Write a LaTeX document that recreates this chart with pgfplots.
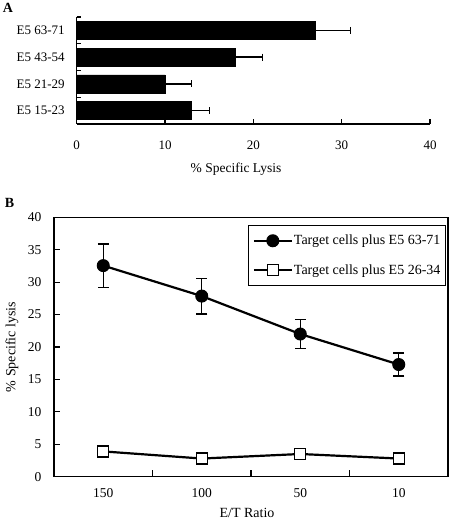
\documentclass[border=0pt]{standalone}
\usepackage{fontspec}
\setmainfont{Liberation Serif}
\usepackage{pgfplots}
\pgfplotsset{compat=1.18}
\begin{document}
\begin{tikzpicture}
\useasboundingbox (0bp,0bp) rectangle (450bp,521bp);
% ---------------- Panel A ----------------
\begin{axis}[
  at={(76.7bp,397bp)}, anchor=south west,
  scale only axis, width=353.3bp, height=107bp,
  xbar, bar width=18bp,
  xmin=0, xmax=40, ymin=-0.5, ymax=3.5,
  axis x line*=bottom, axis y line*=left,
  axis line style={line width=1.4bp},
  xtick={0,10,20,30,40},
  minor xtick={0,10,20,30,40},
  ytick={0,1,2,3},
  yticklabels={E5 15-23,E5 21-29,E5 43-54,E5 63-71},
  minor ytick={-0.5,0.5,1.5,2.5,3.5},
  tick align=inside,
  major tick length=0pt, minor tick length=4.5bp,
  every tick/.style={line width=1.1bp,black},
  /pgf/number format/assume math mode=true,
  tick label style={font=\fontsize{13bp}{15bp}\selectfont},
  xticklabel style={yshift=-13bp},
  yticklabel style={xshift=-8.5bp},
  xlabel={\% Specific Lysis},
  xlabel style={font=\fontsize{13.5bp}{16bp}\selectfont, at={(axis description cs:0.451,-0.42)}, anchor=center},
]
\addplot[fill=black, draw=black,
  error bars/.cd, x dir=plus, x explicit,
  error bar style={line width=1.3bp, black},
  error mark=|,
  error mark options={mark size=3.5bp, line width=1.3bp, black}]
  coordinates {
  (13,0) +- (2,0)
  (10,1) +- (3,0)
  (18,2) +- (3,0)
  (27,3) +- (4,0)
};
\end{axis}
% ---------------- Panel B ----------------
\begin{axis}[
  at={(54bp,44.3bp)}, anchor=south west,
  scale only axis, width=394bp, height=259.4bp,
  xmin=-0.5, xmax=3.5, ymin=0, ymax=40,
  axis line style={line width=1.4bp},
  xtick={0.5,1.5,2.5}, xticklabels={},
  extra x ticks={0,1,2,3},
  extra x tick labels={150,100,50,10},
  extra x tick style={major tick length=0pt},
  ytick={0,5,...,40},
  xtick pos=bottom, ytick pos=left,
  tick align=inside,
  major tick length=6.5bp,
  every tick/.style={line width=1.1bp,black},
  /pgf/number format/assume math mode=true,
  tick label style={font=\fontsize{13.5bp}{16bp}\selectfont},
  xticklabel style={yshift=-8.5bp},
  yticklabel style={xshift=-9bp},
  xlabel={E/T Ratio},
  ylabel={\% Specific lysis},
  label style={font=\fontsize{14bp}{16bp}\selectfont},
  xlabel style={at={(axis description cs:0.49,-0.14)}, anchor=center},
  ylabel style={at={(axis description cs:-0.107,0.5)}, anchor=center},
  legend style={at={(0.995,0.972)}, anchor=north east, draw=black, line width=1.2bp,
    font=\fontsize{14bp}{16bp}\selectfont, row sep=14bp,
    inner xsep=4bp, inner ysep=8bp,
    nodes={inner xsep=1bp, inner ysep=2bp}},
  legend cell align=left,
  legend image code/.code={\draw[mark repeat=2,mark phase=2,#1] plot coordinates {(0bp,0bp) (19bp,0bp) (38bp,0bp)};},
]
\addplot[black, line width=2.2bp, mark=*, mark size=6bp,
  mark options={fill=black, line width=1bp},
  error bars/.cd, y dir=both, y explicit,
  error bar style={line width=1.4bp, black},
  error mark=|,
  error mark options={mark size=5.5bp, line width=1.4bp, black}]
  coordinates {
  (0,32.55) +- (0,3.35)
  (1,27.85) +- (0,2.75)
  (2,22.0) +- (0,2.25)
  (3,17.3) +- (0,1.75)
};
\addlegendentry{Target cells plus E5 63-71}
\addplot[black, line width=2.2bp, mark=square*, mark size=5.5bp,
  mark options={fill=white, line width=1.4bp}]
  coordinates {
  (0,3.9)
  (1,2.8)
  (2,3.5)
  (3,2.8)
};
\addlegendentry{Target cells plus E5 26-34}
\end{axis}
\node[font=\bfseries\fontsize{14bp}{16bp}\selectfont] at (8bp,513bp) {A};
\node[font=\bfseries\fontsize{14bp}{16bp}\selectfont] at (9.5bp,318bp) {B};
\end{tikzpicture}
\end{document}
